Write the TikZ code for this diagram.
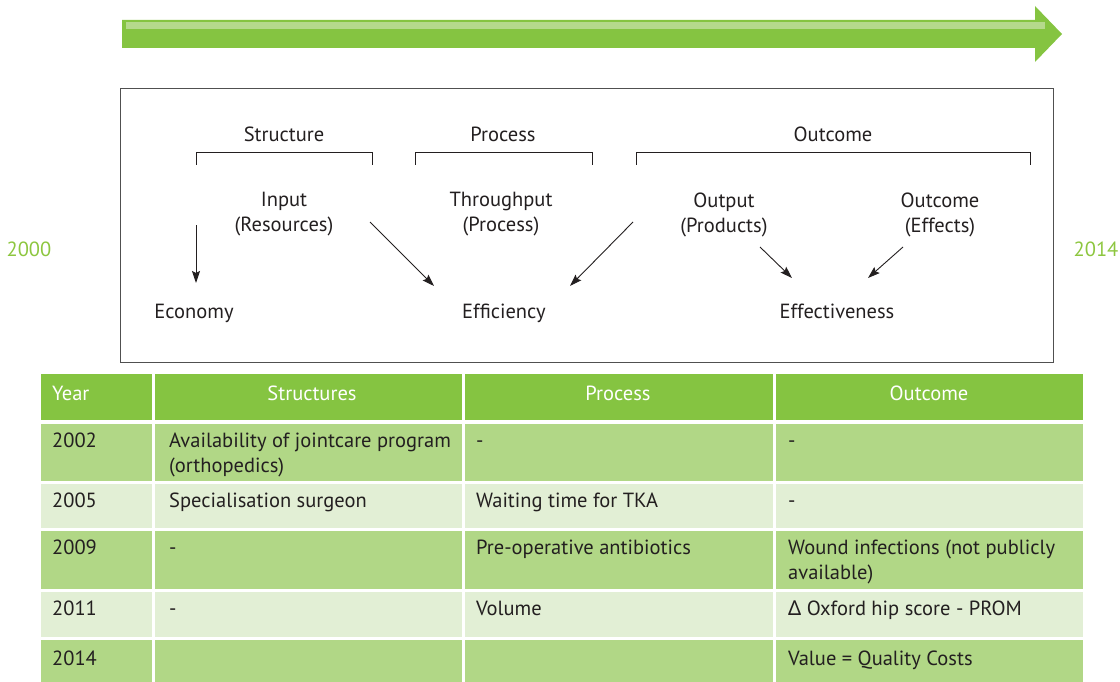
\documentclass[tikz,border=0pt]{standalone}
\usepackage{fontspec}
\setmainfont{PT Sans}
\newfontfamily\grk{Noto Sans}
\usetikzlibrary{arrows.meta}
\definecolor{hdr}{HTML}{85C441}
\definecolor{dark}{HTML}{B1D786}
\definecolor{lite}{HTML}{E2EFD5}
\definecolor{ink}{HTML}{231F20}
\definecolor{stripe}{HTML}{B5D98C}
\definecolor{frame}{HTML}{505050}
\definecolor{yr}{HTML}{8DC63F}
\begin{document}
\begin{tikzpicture}[x=1pt,y=-1pt,
  font=\fontsize{20.5}{25}\selectfont, text=ink,
  lbl/.style={inner sep=0, align=center, text=ink},
  blbl/.style={inner sep=0, anchor=base, text=ink},
  celltxt/.style={anchor=base west, inner sep=0, align=left, text=ink},
  hdrtxt/.style={anchor=base, inner sep=0, text=white},
  conn/.style={draw=ink, line width=0.9pt, -{Stealth[length=12pt,width=8pt,inset=2pt]}},
  brk/.style={draw=ink, line width=0.9pt}]
\useasboundingbox (0,0) rectangle (1120,682);
% big timeline arrow
\fill[hdr] (122,20) -- (1035,20) -- (1035,6) -- (1062,34) -- (1035,62) -- (1035,48) -- (122,48) -- cycle;
\fill[stripe] (126,22) rectangle (1045,29);
% years
\node[blbl, text=yr] (y2000) at (29,256) {2000};
\node[blbl, text=yr] (y2014) at (1096,256) {2014};
% frame
\draw[frame, line width=1pt] (120.5,88.5) rectangle (1053.5,362);
% brackets and group labels
\node[blbl] (gs) at (284,142) {Structure};
\node[blbl] (gp) at (503,142) {Process};
\node[blbl] (go) at (833,142) {Outcome};
\draw[brk] (196,165) -- (196,152) -- (372,152) -- (372,165);
\draw[brk] (415,165) -- (415,152) -- (592,152) -- (592,165);
\draw[brk] (636,165) -- (636,152) -- (1030,152) -- (1030,165);
% middle row
\node[lbl] (inp) at (284,214.5) {Input\\(Resources)};
\node[lbl] (thr) at (501,214.5) {Throughput\\(Process)};
\node[lbl] (outp) at (724,214.5) {Output\\(Products)};
\node[lbl] (outc) at (940,214.5) {Outcome\\(Effects)};
% bottom row
\node[blbl] (eco) at (194,318) {Economy};
\node[blbl] (eff) at (504,318) {Efficiency};
\node[blbl] (efv) at (837,318) {Effectiveness};
% connector end points
\coordinate (a1s) at (196,225); \coordinate (a1e) at (196,283);
\coordinate (a2s) at (370,222); \coordinate (a2e) at (434,286);
\coordinate (a3s) at (633,222); \coordinate (a3e) at (570,286);
\coordinate (a4s) at (760,247); \coordinate (a4e) at (792,278);
\coordinate (a5s) at (903,247); \coordinate (a5e) at (868,278);
\draw[conn] (a1s) -- (a1e);
\draw[conn] (a2s) -- (a2e);
\draw[conn] (a3s) -- (a3e);
\draw[conn] (a4s) -- (a4e);
\draw[conn] (a5s) -- (a5e);
% table backgrounds
\fill[hdr] (41,374) rectangle (152,420);
\fill[hdr] (155,374) rectangle (462,420);
\fill[hdr] (465,374) rectangle (773,420);
\fill[hdr] (776,374) rectangle (1083,420);
\foreach \t/\b/\c in {423.5/481/dark, 484/528/lite, 531/589/dark, 592/636.5/lite, 639.5/682/dark}{
  \fill[\c] (41,\t) rectangle (152,\b);
  \fill[\c] (155,\t) rectangle (462,\b);
  \fill[\c] (465,\t) rectangle (773,\b);
  \fill[\c] (776,\t) rectangle (1083,\b);
}
% header text
\node[hdrtxt, anchor=base west] (hy) at (52,400) {Year};
\node[hdrtxt] (hs) at (312,400) {Structures};
\node[hdrtxt] (hp) at (618,400) {Process};
\node[hdrtxt] (ho) at (929,400) {Outcome};
% row 1
\node[celltxt] (r1a) at (52,447) {2002};
\node[celltxt] (r1b) at (169,447) {Availability of jointcare program};
\node[celltxt] (r1b2) at (169,472) {(orthopedics)};
\node[celltxt] (r1c) at (476,447) {-};
\node[celltxt] (r1d) at (788,447) {-};
% row 2
\node[celltxt] (r2a) at (52,507) {2005};
\node[celltxt] (r2b) at (169,507) {Specialisation surgeon};
\node[celltxt] (r2c) at (476,507) {Waiting time for TKA};
\node[celltxt] (r2d) at (788,507) {-};
% row 3
\node[celltxt] (r3a) at (52,554) {2009};
\node[celltxt] (r3b) at (169,554) {-};
\node[celltxt] (r3c) at (476,554) {Pre-operative antibiotics};
\node[celltxt] (r3d) at (788,554) {Wound infections (not publicly};
\node[celltxt] (r3d2) at (788,579) {available)};
% row 4
\node[celltxt] (r4a) at (52,615) {2011};
\node[celltxt] (r4b) at (169,615) {-};
\node[celltxt] (r4c) at (476,615) {Volume};
\node[celltxt] (r4d) at (788,615) {{\grk Δ} Oxford hip score - PROM};
% row 5
\node[celltxt] (r5a) at (52,665) {2014};
\node[celltxt] (r5d) at (788,665) {Value = Quality Costs};
\end{tikzpicture}
\end{document}
